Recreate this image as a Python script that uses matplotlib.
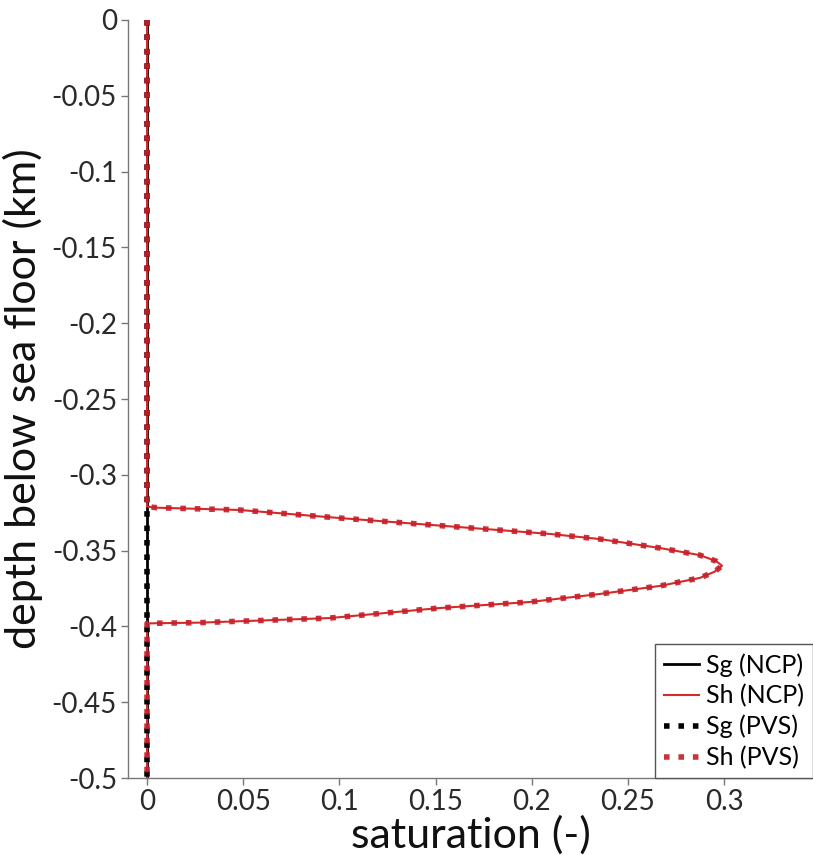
import matplotlib
matplotlib.use("Agg")
import matplotlib.pyplot as plt

plt.rcParams['font.family'] = ['Lato', 'DejaVu Sans']

# Depth (km, below sea floor) and hydrate saturation profile
depth_sh = [0.0, -0.3210, -0.3217, -0.3232, -0.3285, -0.3390, -0.3424, -0.3483,
            -0.3530, -0.3570, -0.3600, -0.3640, -0.3680, -0.3733, -0.3786,
            -0.3839, -0.3879, -0.3945, -0.3975, -0.3980, -0.5]
sh_vals = [0.0, 0.0, 0.005, 0.048, 0.100, 0.2095, 0.2355, 0.2667,
           0.2875, 0.2960, 0.2990, 0.2950, 0.2875, 0.2667, 0.2355,
           0.199, 0.152, 0.095, 0.028, 0.0, 0.0]

# Gas saturation (zero throughout)
depth_sg = [0.0, -0.5]
sg_vals = [0.0, 0.0]

series_labels = ["Sg (NCP)", "Sh (NCP)", "Sg (PVS)", "Sh (PVS)"]
x_ticks = [0, 0.05, 0.1, 0.15, 0.2, 0.25, 0.3]
x_ticklabels = ["0", "0.05", "0.1", "0.15", "0.2", "0.25", "0.3"]
y_ticks = [0, -0.05, -0.1, -0.15, -0.2, -0.25, -0.3, -0.35, -0.4, -0.45, -0.5]
y_ticklabels = ["0", "-0.05", "-0.1", "-0.15", "-0.2", "-0.25", "-0.3",
                "-0.35", "-0.4", "-0.45", "-0.5"]

fig = plt.figure(figsize=(8.13, 8.55), dpi=100)
ax = fig.add_axes([128/813, 1-778/855, 1-128/813, (778-20)/855])

red = "#d42a2a"
dots = (0, (1, 1.6))
ax.plot(sg_vals, depth_sg, color="black", lw=2.0, label=series_labels[0], zorder=2)
ax.plot(sh_vals, depth_sh, color=red, lw=1.5, label=series_labels[1], zorder=3)
ax.plot(sg_vals, depth_sg, color="black", lw=4.0, ls=dots,
        label=series_labels[2], zorder=4)
ax.plot(sh_vals, depth_sh, color="#c8202a", lw=4.0, ls=dots,
        label=series_labels[3], zorder=5, alpha=0.92)

ax.set_xlim(-0.0099, 0.3463)
ax.set_ylim(-0.5, 0.0)
ax.set_xticks(x_ticks)
ax.set_xticklabels(x_ticklabels)
ax.set_yticks(y_ticks)
ax.set_yticklabels(y_ticklabels)

for s in ["top", "right"]:
    ax.spines[s].set_visible(False)
for s in ["left", "bottom"]:
    ax.spines[s].set_color("#777777")
    ax.spines[s].set_linewidth(1.0)

ax.tick_params(axis="both", direction="out", length=5, width=1, colors="#777777",
               labelcolor="#2a2a2a", labelsize=20, pad=3)

ax.set_xlabel("saturation (-)", fontsize=31, color="#111111", labelpad=0)
ax.set_ylabel("depth below sea floor (km)", fontsize=31, color="#111111", labelpad=6)

leg = ax.legend(loc="lower right", bbox_to_anchor=(1.0, 0.0), borderaxespad=0,
                fontsize=18, frameon=True, fancybox=False, handlelength=1.4,
                handletextpad=0.3, labelspacing=0.3, borderpad=0.35)
leg.get_frame().set_edgecolor("#555555")
leg.get_frame().set_linewidth(1.0)
leg.get_frame().set_alpha(1.0)

fig.savefig("out.png", dpi=100)
